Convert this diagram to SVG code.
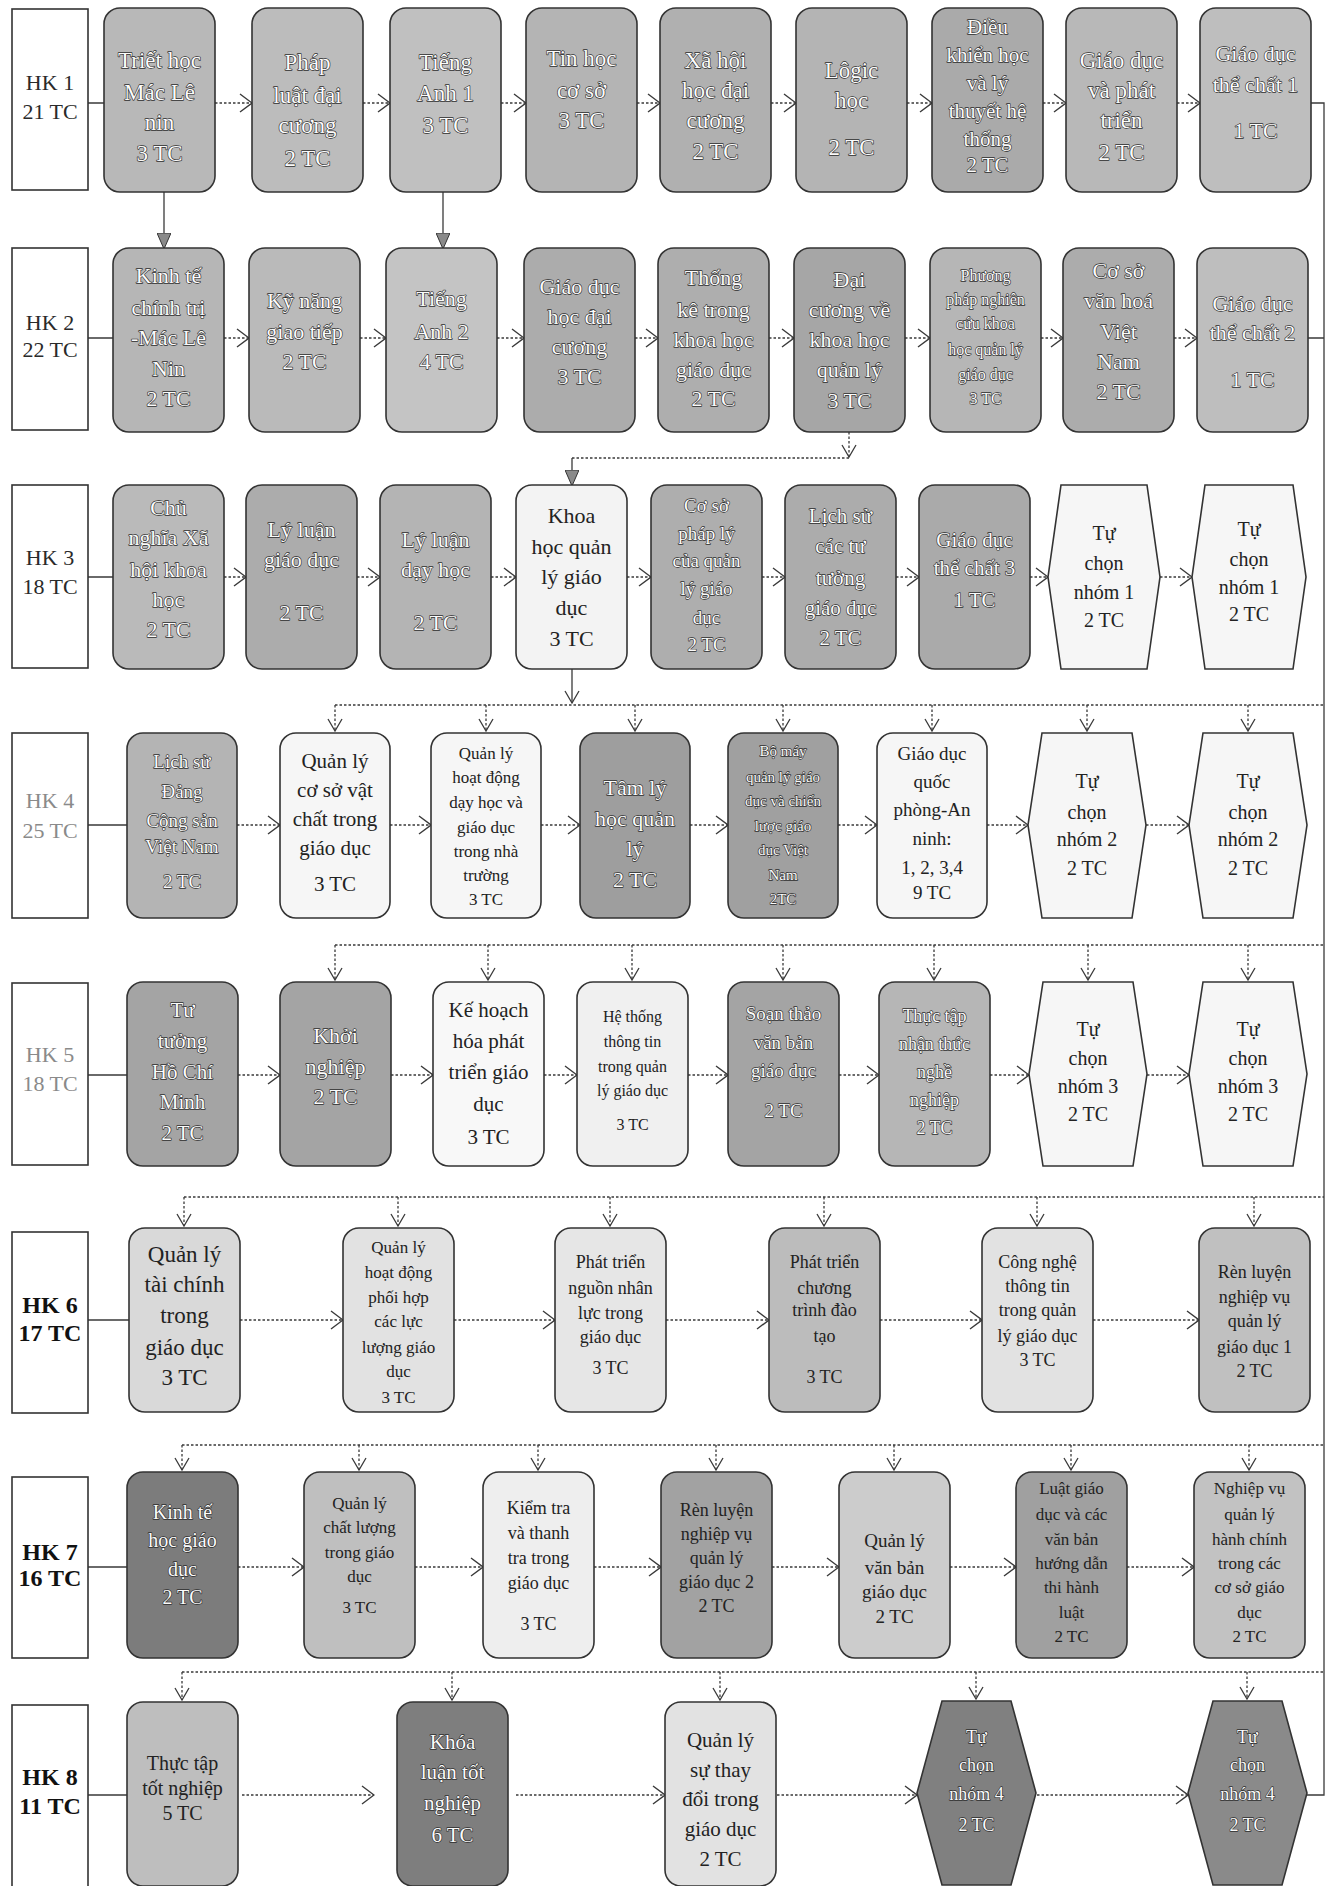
<svg xmlns="http://www.w3.org/2000/svg" width="1331" height="1886" viewBox="0 0 1331 1886">
<style>
text{font-family:"Liberation Serif","Times New Roman",serif;text-anchor:middle}
.hk rect{fill:#fff;stroke:#333;stroke-width:1.6}
.hk text{fill:#2a2a2a;font-size:22px}
.hk.gt text{fill:#8a8a8a}
.hk.b text{font-weight:bold;font-size:24px;fill:#111}
.node rect,.node polygon{stroke:#333;stroke-width:1.6}
.lt text{fill:#fbfbfb;stroke:#2e2e2e;stroke-width:1.3px;paint-order:stroke;stroke-linejoin:round}
.dk text{fill:#222}
.c{fill:none;stroke:#3a3a3a;stroke-width:1.3}
.d{stroke-dasharray:2.5 2}
</style>
<defs>
<marker id="chev" viewBox="0 0 14 20" refX="13" refY="10" markerWidth="14" markerHeight="20" markerUnits="userSpaceOnUse" orient="auto"><path d="M1,1 L13,10 L1,19" fill="none" stroke="#3a3a3a" stroke-width="1.4"/></marker>
<marker id="vee" viewBox="0 0 14 16" refX="13" refY="8" markerWidth="14" markerHeight="16" markerUnits="userSpaceOnUse" orient="auto"><path d="M1,1 L13,8 L1,15" fill="none" stroke="#3a3a3a" stroke-width="1.3"/></marker>
<marker id="tri" viewBox="0 0 16 14" refX="15" refY="7" markerWidth="16" markerHeight="14" markerUnits="userSpaceOnUse" orient="auto"><path d="M0,0 L16,7 L0,14 Z" fill="#8a8a8a" stroke="#333" stroke-width="1"/></marker>
</defs>

<g id="connectors">
<path class="c" d="M88,103H104 M88,338H113 M88,577H113 M88,825H127 M88,1075H127 M88,1320H129 M88,1567H127 M88,1795H127"/>
<path class="c" d="M1311,103H1324V1795H1307 M1308,338H1324"/>
<g class="c d" marker-end="url(#chev)">
<path d="M215,103H252"/><path d="M363,103H390"/><path d="M501,103H526"/><path d="M637,103H660"/><path d="M771,103H796"/><path d="M907,103H932"/><path d="M1043,103H1066"/><path d="M1177,103H1200"/>
</g>
<g class="c d" marker-end="url(#chev)">
<path d="M224,338H249"/><path d="M360,338H386"/><path d="M497,338H524"/><path d="M635,338H658"/><path d="M769,338H794"/><path d="M905,338H930"/><path d="M1041,338H1063"/><path d="M1174,338H1197"/>
</g>
<g class="c d" marker-end="url(#chev)">
<path d="M224,577H246"/><path d="M357,577H380"/><path d="M491,577H516"/><path d="M627,577H651"/><path d="M762,577H785"/><path d="M896,577H919"/><path d="M1030,577H1048"/><path d="M1160,577H1192"/>
</g>
<g class="c d" marker-end="url(#chev)">
<path d="M237,825H280"/><path d="M390,825H431"/><path d="M541,825H580"/><path d="M690,825H728"/><path d="M838,825H877"/><path d="M987,825H1028"/><path d="M1146,825H1189"/>
</g>
<g class="c d" marker-end="url(#chev)">
<path d="M238,1075H280"/><path d="M391,1075H433"/><path d="M544,1075H577"/><path d="M688,1075H728"/><path d="M839,1075H879"/><path d="M990,1075H1029"/><path d="M1147,1075H1189"/>
</g>
<g class="c d" marker-end="url(#chev)">
<path d="M240,1320H343"/><path d="M454,1320H555"/><path d="M666,1320H769"/><path d="M880,1320H982"/><path d="M1093,1320H1199"/>
</g>
<g class="c d" marker-end="url(#chev)">
<path d="M238,1567H304"/><path d="M415,1567H483"/><path d="M594,1567H661"/><path d="M772,1567H839"/><path d="M950,1567H1016"/><path d="M1127,1567H1194"/>
</g>
<g class="c d" marker-end="url(#chev)">
<path d="M242,1795H374"/><path d="M516,1795H665"/><path d="M777,1795H917"/><path d="M1037,1795H1188"/>
</g>
<path class="c" d="M164,192V248" marker-end="url(#tri)"/>
<path class="c" d="M443,192V248" marker-end="url(#tri)"/>
<path class="c d" d="M849,432V457" marker-end="url(#vee)"/>
<path class="c d" d="M849,458H572"/>
<path class="c" d="M572,458V485" marker-end="url(#tri)"/>
<path class="c" d="M572,669V703" marker-end="url(#vee)"/>
<path class="c d" d="M335,705H1324 M335,945H1324 M184,1197H1324 M182,1445H1324 M182,1672H1324"/>
<g class="c d" marker-end="url(#vee)">
<path d="M335,705V731"/><path d="M486,705V731"/><path d="M635,705V731"/><path d="M783,705V731"/><path d="M932,705V731"/><path d="M1087,705V731"/><path d="M1248,705V731"/>
<path d="M335,945V980"/><path d="M488,945V980"/><path d="M632,945V980"/><path d="M783,945V980"/><path d="M934,945V980"/><path d="M1088,945V980"/><path d="M1248,945V980"/>
<path d="M184,1197V1226"/><path d="M398,1197V1226"/><path d="M610,1197V1226"/><path d="M824,1197V1226"/><path d="M1037,1197V1226"/><path d="M1254,1197V1226"/>
<path d="M182,1445V1470"/><path d="M359,1445V1470"/><path d="M538,1445V1470"/><path d="M716,1445V1470"/><path d="M894,1445V1470"/><path d="M1071,1445V1470"/><path d="M1249,1445V1470"/>
<path d="M182,1672V1700"/><path d="M452,1672V1700"/><path d="M720,1672V1700"/><path d="M976,1672V1699"/><path d="M1247,1672V1699"/>
</g>
</g>

<g id="hk1" class="hk"><rect x="12" y="9" width="76" height="181"/><text><tspan x="50" y="90">HK 1</tspan><tspan x="50" y="119">21 TC</tspan></text></g>
<g id="hk2" class="hk"><rect x="12" y="248" width="76" height="182"/><text><tspan x="50" y="330">HK 2</tspan><tspan x="50" y="357">22 TC</tspan></text></g>
<g id="hk3" class="hk"><rect x="12" y="485" width="76" height="183"/><text><tspan x="50" y="565">HK 3</tspan><tspan x="50" y="594">18 TC</tspan></text></g>
<g id="hk4" class="hk gt"><rect x="12" y="733" width="76" height="185"/><text><tspan x="50" y="808">HK 4</tspan><tspan x="50" y="838">25 TC</tspan></text></g>
<g id="hk5" class="hk gt"><rect x="12" y="983" width="76" height="182"/><text><tspan x="50" y="1062">HK 5</tspan><tspan x="50" y="1091">18 TC</tspan></text></g>
<g id="hk6" class="hk b"><rect x="12" y="1232" width="76" height="181"/><text><tspan x="50" y="1313">HK 6</tspan><tspan x="50" y="1341">17 TC</tspan></text></g>
<g id="hk7" class="hk b"><rect x="12" y="1477" width="76" height="181"/><text><tspan x="50" y="1560">HK 7</tspan><tspan x="50" y="1586">16 TC</tspan></text></g>
<g id="hk8" class="hk b"><rect x="12" y="1705" width="76" height="190"/><text><tspan x="50" y="1785">HK 8</tspan><tspan x="50" y="1814">11 TC</tspan></text></g>

<g id="n1_1" class="node lt"><rect x="104" y="8" width="111" height="184" rx="16" fill="#b8b8b8"/><text font-size="23"><tspan x="159.5" y="68">Triết học</tspan><tspan x="159.5" y="100">Mác Lê</tspan><tspan x="159.5" y="130">nin</tspan><tspan x="159.5" y="161">3 TC</tspan></text></g>
<g id="n1_2" class="node lt"><rect x="252" y="8" width="111" height="184" rx="16" fill="#bcbcbc"/><text font-size="23"><tspan x="307.5" y="70">Pháp</tspan><tspan x="307.5" y="103">luật đại</tspan><tspan x="307.5" y="133">cương</tspan><tspan x="307.5" y="166">2 TC</tspan></text></g>
<g id="n1_3" class="node lt"><rect x="390" y="8" width="111" height="184" rx="16" fill="#c0c0c0"/><text font-size="23"><tspan x="445.5" y="70">Tiếng</tspan><tspan x="445.5" y="101">Anh 1</tspan><tspan x="445.5" y="133">3 TC</tspan></text></g>
<g id="n1_4" class="node lt"><rect x="526" y="8" width="111" height="184" rx="16" fill="#b4b4b4"/><text font-size="23"><tspan x="581.5" y="66">Tin học</tspan><tspan x="581.5" y="98">cơ sở</tspan><tspan x="581.5" y="128">3 TC</tspan></text></g>
<g id="n1_5" class="node lt"><rect x="660" y="8" width="111" height="184" rx="16" fill="#b0b0b0"/><text font-size="23"><tspan x="715.5" y="68">Xã hội</tspan><tspan x="715.5" y="98">học đại</tspan><tspan x="715.5" y="128">cương</tspan><tspan x="715.5" y="159">2 TC</tspan></text></g>
<g id="n1_6" class="node lt"><rect x="796" y="8" width="111" height="184" rx="16" fill="#b4b4b4"/><text font-size="23"><tspan x="851.5" y="78">Lôgic</tspan><tspan x="851.5" y="108">học</tspan><tspan x="851.5" y="155">2 TC</tspan></text></g>
<g id="n1_7" class="node lt"><rect x="932" y="8" width="111" height="184" rx="16" fill="#aaaaaa"/><text font-size="21"><tspan x="987.5" y="34">Điều</tspan><tspan x="987.5" y="62">khiển học</tspan><tspan x="987.5" y="90">và lý</tspan><tspan x="987.5" y="118">thuyết hệ</tspan><tspan x="987.5" y="146">thống</tspan><tspan x="987.5" y="172">2 TC</tspan></text></g>
<g id="n1_8" class="node lt"><rect x="1066" y="8" width="111" height="184" rx="16" fill="#b8b8b8"/><text font-size="23"><tspan x="1121.5" y="68">Giáo dục</tspan><tspan x="1121.5" y="98">và phát</tspan><tspan x="1121.5" y="128">triển</tspan><tspan x="1121.5" y="160">2 TC</tspan></text></g>
<g id="n1_9" class="node lt"><rect x="1200" y="8" width="111" height="184" rx="16" fill="#bebebe"/><text font-size="22"><tspan x="1255.5" y="61">Giáo dục</tspan><tspan x="1255.5" y="92">thể chất 1</tspan><tspan x="1255.5" y="138">1 TC</tspan></text></g>

<g id="n2_1" class="node lt"><rect x="113" y="248" width="111" height="184" rx="16" fill="#b6b6b6"/><text font-size="22"><tspan x="168.5" y="283">Kinh tế</tspan><tspan x="168.5" y="315">chính trị</tspan><tspan x="168.5" y="345">-Mác Lê</tspan><tspan x="168.5" y="376">Nin</tspan><tspan x="168.5" y="406">2 TC</tspan></text></g>
<g id="n2_2" class="node lt"><rect x="249" y="248" width="111" height="184" rx="16" fill="#bababa"/><text font-size="22"><tspan x="304.5" y="308">Kỹ năng</tspan><tspan x="304.5" y="339">giao tiếp</tspan><tspan x="304.5" y="369">2 TC</tspan></text></g>
<g id="n2_3" class="node lt"><rect x="386" y="248" width="111" height="184" rx="16" fill="#c4c4c4"/><text font-size="22"><tspan x="441.5" y="306">Tiếng</tspan><tspan x="441.5" y="339">Anh 2</tspan><tspan x="441.5" y="369">4 TC</tspan></text></g>
<g id="n2_4" class="node lt"><rect x="524" y="248" width="111" height="184" rx="16" fill="#acacac"/><text font-size="22"><tspan x="579.5" y="294">Giáo dục</tspan><tspan x="579.5" y="324">học đại</tspan><tspan x="579.5" y="354">cương</tspan><tspan x="579.5" y="384">3 TC</tspan></text></g>
<g id="n2_5" class="node lt"><rect x="658" y="248" width="111" height="184" rx="16" fill="#aeaeae"/><text font-size="22"><tspan x="713.5" y="285">Thống</tspan><tspan x="713.5" y="317">kê trong</tspan><tspan x="713.5" y="347">khoa học</tspan><tspan x="713.5" y="377">giáo dục</tspan><tspan x="713.5" y="406">2 TC</tspan></text></g>
<g id="n2_6" class="node lt"><rect x="794" y="248" width="111" height="184" rx="16" fill="#a6a6a6"/><text font-size="22"><tspan x="849.5" y="287">Đại</tspan><tspan x="849.5" y="317">cương về</tspan><tspan x="849.5" y="347">khoa học</tspan><tspan x="849.5" y="377">quản lý</tspan><tspan x="849.5" y="408">3 TC</tspan></text></g>
<g id="n2_7" class="node lt"><rect x="930" y="248" width="111" height="184" rx="16" fill="#b6b6b6"/><text font-size="16"><tspan x="985.5" y="281">Phương</tspan><tspan x="985.5" y="305">pháp nghiên</tspan><tspan x="985.5" y="329">cứu khoa</tspan><tspan x="985.5" y="355">học quản lý</tspan><tspan x="985.5" y="380">giáo dục</tspan><tspan x="985.5" y="404">3 TC</tspan></text></g>
<g id="n2_8" class="node lt"><rect x="1063" y="248" width="111" height="184" rx="16" fill="#acacac"/><text font-size="22"><tspan x="1118.5" y="278">Cơ sở</tspan><tspan x="1118.5" y="308">văn hoá</tspan><tspan x="1118.5" y="339">Việt</tspan><tspan x="1118.5" y="369">Nam</tspan><tspan x="1118.5" y="399">2 TC</tspan></text></g>
<g id="n2_9" class="node lt"><rect x="1197" y="248" width="111" height="184" rx="16" fill="#bebebe"/><text font-size="22"><tspan x="1252.5" y="311">Giáo dục</tspan><tspan x="1252.5" y="340">thể chất 2</tspan><tspan x="1252.5" y="387">1 TC</tspan></text></g>

<g id="n3_1" class="node lt"><rect x="113" y="485" width="111" height="184" rx="16" fill="#bababa"/><text font-size="22"><tspan x="168.5" y="515">Chủ</tspan><tspan x="168.5" y="545">nghĩa Xã</tspan><tspan x="168.5" y="577">hội khoa</tspan><tspan x="168.5" y="607">học</tspan><tspan x="168.5" y="637">2 TC</tspan></text></g>
<g id="n3_2" class="node lt"><rect x="246" y="485" width="111" height="184" rx="16" fill="#acacac"/><text font-size="22"><tspan x="301.5" y="537">Lý luận</tspan><tspan x="301.5" y="567">giáo dục</tspan><tspan x="301.5" y="620">2 TC</tspan></text></g>
<g id="n3_3" class="node lt"><rect x="380" y="485" width="111" height="184" rx="16" fill="#b4b4b4"/><text font-size="22"><tspan x="435.5" y="547">Lý luận</tspan><tspan x="435.5" y="577">dạy học</tspan><tspan x="435.5" y="630">2 TC</tspan></text></g>
<g id="n3_4" class="node dk"><rect x="516" y="485" width="111" height="184" rx="16" fill="#f3f3f3"/><text font-size="22"><tspan x="571.5" y="523">Khoa</tspan><tspan x="571.5" y="554">học quản</tspan><tspan x="571.5" y="584">lý giáo</tspan><tspan x="571.5" y="615">dục</tspan><tspan x="571.5" y="646">3 TC</tspan></text></g>
<g id="n3_5" class="node lt"><rect x="651" y="485" width="111" height="184" rx="16" fill="#aeaeae"/><text font-size="19"><tspan x="706.5" y="512">Cơ sở</tspan><tspan x="706.5" y="540">pháp lý</tspan><tspan x="706.5" y="567">của quản</tspan><tspan x="706.5" y="595">lý giáo</tspan><tspan x="706.5" y="624">dục</tspan><tspan x="706.5" y="651">2 TC</tspan></text></g>
<g id="n3_6" class="node lt"><rect x="785" y="485" width="111" height="184" rx="16" fill="#acacac"/><text font-size="21"><tspan x="840.5" y="523">Lịch sử</tspan><tspan x="840.5" y="553">các tư</tspan><tspan x="840.5" y="585">tưởng</tspan><tspan x="840.5" y="615">giáo dục</tspan><tspan x="840.5" y="645">2 TC</tspan></text></g>
<g id="n3_7" class="node lt"><rect x="919" y="485" width="111" height="184" rx="16" fill="#aaaaaa"/><text font-size="21"><tspan x="974.5" y="547">Giáo dục</tspan><tspan x="974.5" y="575">thể chất 3</tspan><tspan x="974.5" y="607">1 TC</tspan></text></g>
<g id="n3_8" class="node dk"><polygon points="1061,485 1147,485 1160,577 1147,669 1061,669 1048,577" fill="#f6f6f6"/><text font-size="20"><tspan x="1104" y="540">Tự</tspan><tspan x="1104" y="570">chọn</tspan><tspan x="1104" y="599">nhóm 1</tspan><tspan x="1104" y="627">2 TC</tspan></text></g>
<g id="n3_9" class="node dk"><polygon points="1205,485 1293,485 1306,577 1293,669 1205,669 1192,577" fill="#f6f6f6"/><text font-size="20"><tspan x="1249" y="536">Tự</tspan><tspan x="1249" y="566">chọn</tspan><tspan x="1249" y="594">nhóm 1</tspan><tspan x="1249" y="621">2 TC</tspan></text></g>

<g id="n4_1" class="node lt"><rect x="127" y="733" width="110" height="185" rx="16" fill="#b4b4b4"/><text font-size="19"><tspan x="182" y="768">Lịch sử</tspan><tspan x="182" y="798">Đảng</tspan><tspan x="182" y="827">Cộng sản</tspan><tspan x="182" y="853">Việt Nam</tspan><tspan x="182" y="888">2 TC</tspan></text></g>
<g id="n4_2" class="node dk"><rect x="280" y="733" width="110" height="185" rx="16" fill="#f6f6f6"/><text font-size="21"><tspan x="335" y="768">Quản lý</tspan><tspan x="335" y="797">cơ sở vật</tspan><tspan x="335" y="826">chất trong</tspan><tspan x="335" y="855">giáo dục</tspan><tspan x="335" y="891">3 TC</tspan></text></g>
<g id="n4_3" class="node dk"><rect x="431" y="733" width="110" height="185" rx="16" fill="#f6f6f6"/><text font-size="17"><tspan x="486" y="759">Quản lý</tspan><tspan x="486" y="783">hoạt động</tspan><tspan x="486" y="808">dạy học và</tspan><tspan x="486" y="833">giáo dục</tspan><tspan x="486" y="857">trong nhà</tspan><tspan x="486" y="881">trường</tspan><tspan x="486" y="905">3 TC</tspan></text></g>
<g id="n4_4" class="node lt"><rect x="580" y="733" width="110" height="185" rx="16" fill="#9e9e9e"/><text font-size="22"><tspan x="635" y="795">Tâm lý</tspan><tspan x="635" y="826">học quản</tspan><tspan x="635" y="856">lý</tspan><tspan x="635" y="887">2 TC</tspan></text></g>
<g id="n4_5" class="node lt"><rect x="728" y="733" width="110" height="185" rx="16" fill="#a0a0a0"/><text font-size="15"><tspan x="783" y="756">Bộ máy</tspan><tspan x="783" y="782">quản lý giáo</tspan><tspan x="783" y="806">dục và chiến</tspan><tspan x="783" y="831">lược giáo</tspan><tspan x="783" y="855">dục Việt</tspan><tspan x="783" y="880">Nam</tspan><tspan x="783" y="904">2TC</tspan></text></g>
<g id="n4_6" class="node dk"><rect x="877" y="733" width="110" height="185" rx="16" fill="#f6f6f6"/><text font-size="19"><tspan x="932" y="760">Giáo dục</tspan><tspan x="932" y="788">quốc</tspan><tspan x="932" y="816">phòng-An</tspan><tspan x="932" y="845">ninh:</tspan><tspan x="932" y="874">1, 2, 3,4</tspan><tspan x="932" y="899">9 TC</tspan></text></g>
<g id="n4_7" class="node dk"><polygon points="1042,733 1132,733 1146,825 1132,918 1042,918 1028,825" fill="#f6f6f6"/><text font-size="20"><tspan x="1087" y="788">Tự</tspan><tspan x="1087" y="819">chọn</tspan><tspan x="1087" y="846">nhóm 2</tspan><tspan x="1087" y="875">2 TC</tspan></text></g>
<g id="n4_8" class="node dk"><polygon points="1203,733 1293,733 1307,825 1293,918 1203,918 1189,825" fill="#f6f6f6"/><text font-size="20"><tspan x="1248" y="788">Tự</tspan><tspan x="1248" y="819">chọn</tspan><tspan x="1248" y="846">nhóm 2</tspan><tspan x="1248" y="875">2 TC</tspan></text></g>

<g id="n5_1" class="node lt"><rect x="127" y="982" width="111" height="184" rx="16" fill="#a4a4a4"/><text font-size="21"><tspan x="182.5" y="1017">Tư</tspan><tspan x="182.5" y="1048">tưởng</tspan><tspan x="182.5" y="1079">Hồ Chí</tspan><tspan x="182.5" y="1109">Minh</tspan><tspan x="182.5" y="1140">2 TC</tspan></text></g>
<g id="n5_2" class="node lt"><rect x="280" y="982" width="111" height="184" rx="16" fill="#a4a4a4"/><text font-size="22"><tspan x="335.5" y="1043">Khởi</tspan><tspan x="335.5" y="1074">nghiệp</tspan><tspan x="335.5" y="1104">2 TC</tspan></text></g>
<g id="n5_3" class="node dk"><rect x="433" y="982" width="111" height="184" rx="16" fill="#f8f8f8"/><text font-size="21"><tspan x="488.5" y="1017">Kế hoạch</tspan><tspan x="488.5" y="1048">hóa phát</tspan><tspan x="488.5" y="1079">triển giáo</tspan><tspan x="488.5" y="1111">dục</tspan><tspan x="488.5" y="1144">3 TC</tspan></text></g>
<g id="n5_4" class="node dk"><rect x="577" y="982" width="111" height="184" rx="16" fill="#f0f0f0"/><text font-size="16"><tspan x="632.5" y="1022">Hệ thống</tspan><tspan x="632.5" y="1047">thông tin</tspan><tspan x="632.5" y="1072">trong quản</tspan><tspan x="632.5" y="1096">lý giáo dục</tspan><tspan x="632.5" y="1130">3 TC</tspan></text></g>
<g id="n5_5" class="node lt"><rect x="728" y="982" width="111" height="184" rx="16" fill="#a4a4a4"/><text font-size="19"><tspan x="783.5" y="1020">Soạn thảo</tspan><tspan x="783.5" y="1049">văn bản</tspan><tspan x="783.5" y="1077">giáo dục</tspan><tspan x="783.5" y="1117">2 TC</tspan></text></g>
<g id="n5_6" class="node lt"><rect x="879" y="982" width="111" height="184" rx="16" fill="#b6b6b6"/><text font-size="18"><tspan x="934.5" y="1022">Thực tập</tspan><tspan x="934.5" y="1050">nhận thức</tspan><tspan x="934.5" y="1078">nghề</tspan><tspan x="934.5" y="1106">nghiệp</tspan><tspan x="934.5" y="1134">2 TC</tspan></text></g>
<g id="n5_7" class="node dk"><polygon points="1043,982 1133,982 1147,1074 1133,1166 1043,1166 1029,1074" fill="#f6f6f6"/><text font-size="20"><tspan x="1088" y="1036">Tự</tspan><tspan x="1088" y="1065">chọn</tspan><tspan x="1088" y="1093">nhóm 3</tspan><tspan x="1088" y="1121">2 TC</tspan></text></g>
<g id="n5_8" class="node dk"><polygon points="1203,982 1293,982 1307,1074 1293,1166 1203,1166 1189,1074" fill="#f6f6f6"/><text font-size="20"><tspan x="1248" y="1036">Tự</tspan><tspan x="1248" y="1065">chọn</tspan><tspan x="1248" y="1093">nhóm 3</tspan><tspan x="1248" y="1121">2 TC</tspan></text></g>

<g id="n6_1" class="node dk"><rect x="129" y="1228" width="111" height="184" rx="16" fill="#d9d9d9"/><text font-size="23"><tspan x="184.5" y="1262">Quản lý</tspan><tspan x="184.5" y="1292">tài chính</tspan><tspan x="184.5" y="1323">trong</tspan><tspan x="184.5" y="1355">giáo dục</tspan><tspan x="184.5" y="1385">3 TC</tspan></text></g>
<g id="n6_2" class="node dk"><rect x="343" y="1228" width="111" height="184" rx="16" fill="#e2e2e2"/><text font-size="17"><tspan x="398.5" y="1253">Quản lý</tspan><tspan x="398.5" y="1278">hoạt động</tspan><tspan x="398.5" y="1303">phối hợp</tspan><tspan x="398.5" y="1327">các lực</tspan><tspan x="398.5" y="1353">lượng giáo</tspan><tspan x="398.5" y="1377">dục</tspan><tspan x="398.5" y="1403">3 TC</tspan></text></g>
<g id="n6_3" class="node dk"><rect x="555" y="1228" width="111" height="184" rx="16" fill="#e6e6e6"/><text font-size="18"><tspan x="610.5" y="1268">Phát triển</tspan><tspan x="610.5" y="1294">nguồn nhân</tspan><tspan x="610.5" y="1319">lực trong</tspan><tspan x="610.5" y="1343">giáo dục</tspan><tspan x="610.5" y="1374">3 TC</tspan></text></g>
<g id="n6_4" class="node dk"><rect x="769" y="1228" width="111" height="184" rx="16" fill="#bcbcbc"/><text font-size="18"><tspan x="824.5" y="1268">Phát triển</tspan><tspan x="824.5" y="1294">chương</tspan><tspan x="824.5" y="1316">trình đào</tspan><tspan x="824.5" y="1342">tạo</tspan><tspan x="824.5" y="1383">3 TC</tspan></text></g>
<g id="n6_5" class="node dk"><rect x="982" y="1228" width="111" height="184" rx="16" fill="#e2e2e2"/><text font-size="18"><tspan x="1037.5" y="1268">Công nghệ</tspan><tspan x="1037.5" y="1292">thông tin</tspan><tspan x="1037.5" y="1316">trong quản</tspan><tspan x="1037.5" y="1342">lý giáo dục</tspan><tspan x="1037.5" y="1366">3 TC</tspan></text></g>
<g id="n6_6" class="node dk"><rect x="1199" y="1228" width="111" height="184" rx="16" fill="#c0c0c0"/><text font-size="18"><tspan x="1254.5" y="1278">Rèn luyện</tspan><tspan x="1254.5" y="1303">nghiệp vụ</tspan><tspan x="1254.5" y="1327">quản lý</tspan><tspan x="1254.5" y="1353">giáo dục 1</tspan><tspan x="1254.5" y="1377">2 TC</tspan></text></g>

<g id="n7_1" class="node lt"><rect x="127" y="1472" width="111" height="186" rx="16" fill="#7c7c7c"/><text font-size="20"><tspan x="182.5" y="1519">Kinh tế</tspan><tspan x="182.5" y="1547">học giáo</tspan><tspan x="182.5" y="1576">dục</tspan><tspan x="182.5" y="1604">2 TC</tspan></text></g>
<g id="n7_2" class="node dk"><rect x="304" y="1472" width="111" height="186" rx="16" fill="#bfbfbf"/><text font-size="17"><tspan x="359.5" y="1509">Quản lý</tspan><tspan x="359.5" y="1533">chất lượng</tspan><tspan x="359.5" y="1558">trong giáo</tspan><tspan x="359.5" y="1582">dục</tspan><tspan x="359.5" y="1613">3 TC</tspan></text></g>
<g id="n7_3" class="node dk"><rect x="483" y="1472" width="111" height="186" rx="16" fill="#eeeeee"/><text font-size="18"><tspan x="538.5" y="1514">Kiểm tra</tspan><tspan x="538.5" y="1539">và thanh</tspan><tspan x="538.5" y="1564">tra trong</tspan><tspan x="538.5" y="1589">giáo dục</tspan><tspan x="538.5" y="1630">3 TC</tspan></text></g>
<g id="n7_4" class="node dk"><rect x="661" y="1472" width="111" height="186" rx="16" fill="#a2a2a2"/><text font-size="18"><tspan x="716.5" y="1516">Rèn luyện</tspan><tspan x="716.5" y="1540">nghiệp vụ</tspan><tspan x="716.5" y="1564">quản lý</tspan><tspan x="716.5" y="1588">giáo dục 2</tspan><tspan x="716.5" y="1612">2 TC</tspan></text></g>
<g id="n7_5" class="node dk"><rect x="839" y="1472" width="111" height="186" rx="16" fill="#cccccc"/><text font-size="19"><tspan x="894.5" y="1547">Quản lý</tspan><tspan x="894.5" y="1574">văn bản</tspan><tspan x="894.5" y="1598">giáo dục</tspan><tspan x="894.5" y="1623">2 TC</tspan></text></g>
<g id="n7_6" class="node dk"><rect x="1016" y="1472" width="111" height="186" rx="16" fill="#a0a0a0"/><text font-size="17"><tspan x="1071.5" y="1494">Luật giáo</tspan><tspan x="1071.5" y="1520">dục và các</tspan><tspan x="1071.5" y="1545">văn bản</tspan><tspan x="1071.5" y="1569">hướng dẫn</tspan><tspan x="1071.5" y="1593">thi hành</tspan><tspan x="1071.5" y="1618">luật</tspan><tspan x="1071.5" y="1642">2 TC</tspan></text></g>
<g id="n7_7" class="node dk"><rect x="1194" y="1472" width="111" height="186" rx="16" fill="#c2c2c2"/><text font-size="17"><tspan x="1249.5" y="1494">Nghiệp vụ</tspan><tspan x="1249.5" y="1520">quản lý</tspan><tspan x="1249.5" y="1545">hành chính</tspan><tspan x="1249.5" y="1569">trong các</tspan><tspan x="1249.5" y="1593">cơ sở giáo</tspan><tspan x="1249.5" y="1618">dục</tspan><tspan x="1249.5" y="1642">2 TC</tspan></text></g>

<g id="n8_1" class="node dk"><rect x="127" y="1702" width="111" height="184" rx="16" fill="#bebebe"/><text font-size="20"><tspan x="182.5" y="1770">Thực tập</tspan><tspan x="182.5" y="1795">tốt nghiệp</tspan><tspan x="182.5" y="1820">5 TC</tspan></text></g>
<g id="n8_2" class="node lt"><rect x="397" y="1702" width="111" height="184" rx="16" fill="#7e7e7e"/><text font-size="21"><tspan x="452.5" y="1749">Khóa</tspan><tspan x="452.5" y="1779">luận tốt</tspan><tspan x="452.5" y="1810">nghiệp</tspan><tspan x="452.5" y="1842">6 TC</tspan></text></g>
<g id="n8_3" class="node dk"><rect x="665" y="1702" width="111" height="184" rx="16" fill="#e2e2e2"/><text font-size="21"><tspan x="720.5" y="1747">Quản lý</tspan><tspan x="720.5" y="1777">sự thay</tspan><tspan x="720.5" y="1806">đổi trong</tspan><tspan x="720.5" y="1836">giáo dục</tspan><tspan x="720.5" y="1866">2 TC</tspan></text></g>
<g id="n8_4" class="node lt"><polygon points="942,1701 1011,1701 1036,1793 1011,1885 942,1885 917,1793" fill="#808080"/><text font-size="18"><tspan x="976.5" y="1743">Tự</tspan><tspan x="976.5" y="1771">chọn</tspan><tspan x="976.5" y="1800">nhóm 4</tspan><tspan x="976.5" y="1831">2 TC</tspan></text></g>
<g id="n8_5" class="node lt"><polygon points="1213,1701 1282,1701 1307,1793 1282,1885 1213,1885 1188,1793" fill="#8a8a8a"/><text font-size="18"><tspan x="1247.5" y="1743">Tự</tspan><tspan x="1247.5" y="1771">chọn</tspan><tspan x="1247.5" y="1800">nhóm 4</tspan><tspan x="1247.5" y="1831">2 TC</tspan></text></g>
</svg>
